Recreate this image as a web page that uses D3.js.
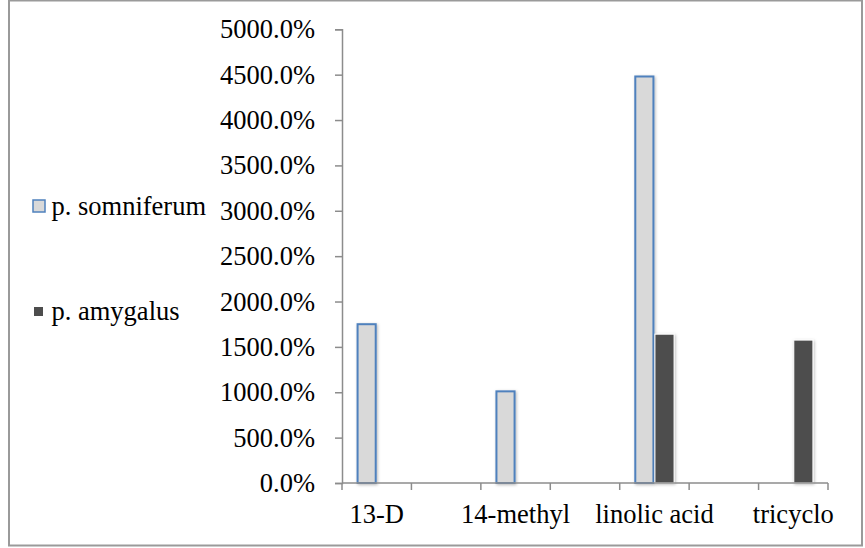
<!DOCTYPE html>
<html>
<head>
<meta charset="utf-8">
<script src="https://cdn.jsdelivr.net/npm/d3@7"></script>
<style>
  html, body { margin: 0; padding: 0; background: #fff; }
  svg { display: block; }
  text { font-family: "Liberation Serif", "Times New Roman", serif; fill: #000; }
</style>
</head>
<body>
<svg id="chart" width="865" height="548"></svg>
<script>
// Category axis (only every other label is printed on the axis)
const categories = ["13-D", "c2", "14-methyl", "c4", "linolic acid", "c6", "tricyclo"];
const categoryLabels = ["13-D", "", "14-methyl", "", "linolic acid", "", "tricyclo"];
const seriesNames = ["p. somniferum", "p. amygalus"];
// Values in percent; null = no bar
const somniferum = [1750, null, 1010, null, 4480, null, null];
const amygalus = [null, null, null, null, 1640, null, 1575];
const yTicks = [0, 500, 1000, 1500, 2000, 2500, 3000, 3500, 4000, 4500, 5000];

const FONT = 26.5;
const svg = d3.select("#chart");
const W = 865, H = 548;

// outer frame
svg.append("rect")
  .attr("x", 9).attr("y", 0.5)
  .attr("width", W - 12).attr("height", 545)
  .attr("fill", "#fff").attr("stroke", "#9a9a9a").attr("stroke-width", 2);

const defs = svg.append("defs");
const f = defs.append("filter").attr("id", "shadow")
  .attr("x", "-50%").attr("y", "-10%").attr("width", "200%").attr("height", "120%");
f.append("feDropShadow").attr("dx", 1).attr("dy", 1).attr("stdDeviation", 1.6)
  .attr("flood-color", "#000").attr("flood-opacity", 0.28);

const plot = { left: 342, right: 828, top: 29.3, bottom: 483 };

const x = d3.scaleBand().domain(categories).range([plot.left, plot.right]).padding(0);
const y = d3.scaleLinear().domain([0, 5000]).range([plot.bottom, plot.top]);
const barW = x.bandwidth() * 0.29;
const sub = d3.scaleOrdinal().domain(seriesNames).range([-barW, 0]);

// y axis
const yAxis = d3.axisLeft(y).tickValues(yTicks)
  .tickFormat(d => d3.format(".1f")(d) + "%")
  .tickSize(7).tickPadding(20);
const gy = svg.append("g").attr("transform", `translate(${plot.left},0)`).call(yAxis);
gy.select(".domain").attr("stroke", "#8c8c8c").attr("stroke-width", 1.5);
gy.selectAll(".tick line").attr("stroke", "#8c8c8c").attr("stroke-width", 1.5);
gy.selectAll(".tick text").attr("font-size", FONT).attr("font-family", "Liberation Serif").attr("fill", "#000");

// x axis
const xAxis = d3.axisBottom(x).tickFormat((d, i) => categoryLabels[i]).tickSize(0).tickPadding(21);
const gx = svg.append("g").attr("transform", `translate(0,${plot.bottom})`).call(xAxis);
gx.select(".domain").remove();
gx.selectAll(".tick text").attr("font-size", FONT).attr("font-family", "Liberation Serif").attr("fill", "#000");
// category boundary ticks
const bounds = categories.map(c => x(c)).concat([x(categories[categories.length - 1]) + x.bandwidth()]);
svg.append("g").selectAll("line").data(bounds).join("line")
  .attr("x1", d => d).attr("x2", d => d)
  .attr("y1", plot.bottom).attr("y2", plot.bottom + 7)
  .attr("stroke", "#8c8c8c").attr("stroke-width", 1.5);

// bars
const bars = [];
categories.forEach((c, i) => {
  if (somniferum[i] != null) bars.push({ c, s: seriesNames[0], v: somniferum[i] });
  if (amygalus[i] != null) bars.push({ c, s: seriesNames[1], v: amygalus[i] });
});
const gb = svg.append("g");
gb.selectAll("rect").data(bars).join("rect")
  .attr("x", d => x(d.c) + x.bandwidth() / 2 + sub(d.s) + (d.s === seriesNames[0] ? 1 : 0.5))
  .attr("y", d => y(d.v))
  .attr("width", d => barW - (d.s === seriesNames[0] ? 2 : 1))
  .attr("height", d => y(0) - y(d.v))
  .attr("fill", d => d.s === seriesNames[0] ? "#d9d9d9" : "#4d4d4d")
  .attr("stroke", d => d.s === seriesNames[0] ? "#4f81bd" : "#ffffff")
  .attr("stroke-width", d => d.s === seriesNames[0] ? 2 : 1)
  .attr("filter", "url(#shadow)");

// x baseline drawn over bars
svg.append("line")
  .attr("x1", plot.left).attr("x2", plot.right)
  .attr("y1", plot.bottom).attr("y2", plot.bottom)
  .attr("stroke", "#8c8c8c").attr("stroke-width", 1.5);

// legend
const legend = svg.append("g");
legend.append("rect").attr("x", 33).attr("y", 200).attr("width", 12).attr("height", 12)
  .attr("fill", "#d9d9d9").attr("stroke", "#4f81bd").attr("stroke-width", 1.5);
legend.append("text").attr("x", 51.5).attr("y", 215).attr("font-size", FONT).text(seriesNames[0]);
legend.append("rect").attr("x", 34).attr("y", 307).attr("width", 9).attr("height", 9)
  .attr("fill", "#4d4d4d");
legend.append("text").attr("x", 51.5).attr("y", 320).attr("font-size", FONT).text(seriesNames[1]);
</script>
</body>
</html>
